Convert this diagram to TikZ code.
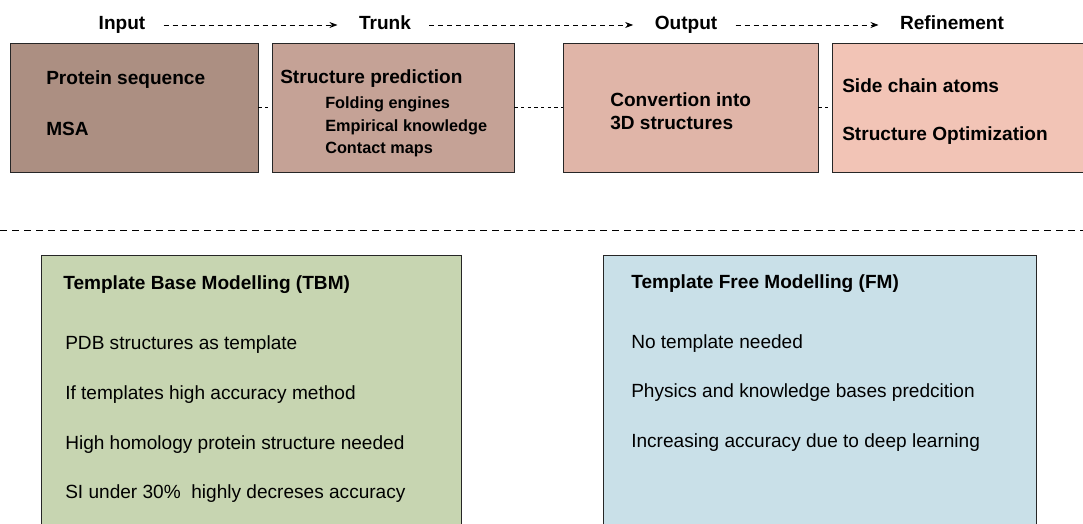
\documentclass[tikz,border=0pt]{standalone}
\usepackage{fontspec}
\setmainfont{Liberation Sans}
\usetikzlibrary{arrows.meta}
\definecolor{inputfill}{HTML}{AC8F82}
\definecolor{trunkfill}{HTML}{C5A296}
\definecolor{outputfill}{HTML}{E0B5A8}
\definecolor{refinefill}{HTML}{F2C4B6}
\definecolor{tbmfill}{HTML}{C7D5B1}
\definecolor{fmfill}{HTML}{C9E0E8}
\begin{document}
\begin{tikzpicture}[x=0.75pt, y=-0.75pt,
    every node/.style={font=\fontsize{14.3}{17}\selectfont},
    stagebox/.style={draw=black!85, line width=0.7pt, minimum height=96.75pt},
    groupbox/.style={draw=black!85, line width=0.7pt, minimum height=213.75pt},
    phase/.style={font=\fontsize{14.3}{17}\selectfont\bfseries, inner sep=0pt, anchor=base},
    boxtext/.style={anchor=west, inner sep=0pt},
    subtext/.style={anchor=west, inner sep=0pt, font=\fontsize{12.2}{14}\selectfont\bfseries},
    flow/.style={line width=0.6pt, dash pattern=on 3.75pt off 3pt,
      -{Stealth[length=6pt, width=4.5pt]}, shorten <=13.5pt, shorten >=16pt},
    link/.style={line width=0.5pt, dash pattern=on 2.5pt off 2.5pt},
    sepline/.style={line width=0.6pt, dash pattern=on 5pt off 4pt}]
    \useasboundingbox (0,0) rectangle (1083,524);
    \clip (0,0) rectangle (1083,524);
    % phase labels
    \node[phase] (input) at (122,30) {Input};
    \node[phase] (trunk) at (385,30) {Trunk};
    \node[phase] (output) at (686,30) {Output};
    \node[phase] (refine) at (952,30) {Refinement};
    \draw[flow] (input.east |- 0,25) -- (trunk.west |- 0,25);
    \draw[flow] (trunk.east |- 0,25) -- (output.west |- 0,25);
    \draw[flow] (output.east |- 0,25) -- (refine.west |- 0,25);
    % stage boxes
    \node[stagebox, fill=inputfill, minimum width=186pt] (inbox) at (134,107.5) {};
    \node[stagebox, fill=trunkfill, minimum width=181.5pt] (trunkbox) at (393,107.5) {};
    \node[stagebox, fill=outputfill, minimum width=191.25pt] (outbox) at (690.5,107.5) {};
    \node[stagebox, fill=refinefill, minimum width=195pt] (refbox) at (962,107.5) {};
    \draw[link] (inbox) -- (trunkbox);
    \draw[link] (trunkbox) -- (outbox);
    \draw[link] (outbox) -- (refbox);
    \node[boxtext, font=\fontsize{14.3}{17}\selectfont\bfseries] (seq) at (46,80) {Protein sequence};
    \node[boxtext, font=\fontsize{14.3}{17}\selectfont\bfseries] (msa) at (46,128.5) {MSA};
    \node[boxtext, font=\fontsize{14.3}{17}\selectfont\bfseries] (pred) at (280,79) {Structure prediction};
    \node[subtext] (fold) at (325,104.5) {Folding engines};
    \node[subtext] (emp) at (325,127.5) {Empirical knowledge};
    \node[subtext] (cmap) at (325,149.5) {Contact maps};
    \node[boxtext, font=\fontsize{14.3}{17}\selectfont\bfseries] (conv) at (610,99.5) {Convertion into};
    \node[boxtext, font=\fontsize{14.3}{17}\selectfont\bfseries] (threed) at (610,122.5) {3D structures};
    \node[boxtext, font=\fontsize{14.3}{17}\selectfont\bfseries] (side) at (842,85.5) {Side chain atoms};
    \node[boxtext, font=\fontsize{14.3}{17}\selectfont\bfseries] (opt) at (842,135.5) {Structure Optimization};
    % separator
    \coordinate (sepL) at (0,230);
    \coordinate (sepR) at (1083,230);
    \draw[sepline] (sepL) -- (sepR);
    % modelling boxes
    \node[groupbox, fill=tbmfill, minimum width=315pt] (tbm) at (251,397.5) {};
    \node[groupbox, fill=fmfill, minimum width=324.75pt] (fm) at (819.5,397.5) {};
    \node[boxtext, font=\fontsize{14.3}{17}\selectfont\bfseries] (tbmtitle) at (63,284.5) {Template Base Modelling (TBM)};
    \node[boxtext] (tbm1) at (65,345) {PDB structures as template};
    \node[boxtext] (tbm2) at (65,395) {If templates high accuracy method};
    \node[boxtext] (tbm3) at (65,444.5) {High homology protein structure needed};
    \node[boxtext] (tbm4) at (65,494) {SI under 30\%\ \ highly decreses accuracy};
    \node[boxtext, font=\fontsize{14.3}{17}\selectfont\bfseries] (fmtitle) at (631,283.5) {Template Free Modelling (FM)};
    \node[boxtext] (fm1) at (631,344) {No template needed};
    \node[boxtext] (fm2) at (631,393) {Physics and knowledge bases predcition};
    \node[boxtext] (fm3) at (631,443) {Increasing accuracy due to deep learning};
  \end{tikzpicture}
\end{document}
